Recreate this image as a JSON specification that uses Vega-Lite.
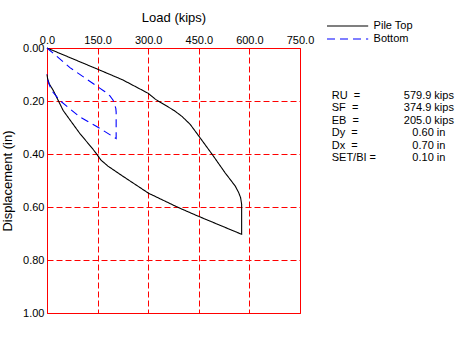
{
  "$schema": "https://vega.github.io/schema/vega-lite/v6.json",
  "autosize": {"type": "none"},
  "width": 253,
  "height": 265,
  "padding": {"left": 47, "top": 48, "right": 163, "bottom": 28},
  "background": "white",
  "config": {
    "font": "Liberation Sans",
    "view": {"stroke": "red", "strokeWidth": 1},
    "axis": {"labelFont": "Liberation Sans", "titleFont": "Liberation Sans", "labelColor": "black", "titleColor": "black", "titleFontWeight": "normal", "labelFontSize": 11, "titleFontSize": 13, "ticks": false, "domain": false, "labelFlush": false, "gridColor": "#ff0000", "gridDash": [6, 3], "gridOpacity": 1, "gridWidth": 1}
  },
  "resolve": {"scale": {"y": "independent"}},
  "layer": [
    {
      "data": {"values": [
        {"series": "Pile Top", "i": 0, "load": 0, "disp": 0},
        {"series": "Pile Top", "i": 1, "load": 150, "disp": 0.08},
        {"series": "Pile Top", "i": 2, "load": 224, "disp": 0.12},
        {"series": "Pile Top", "i": 3, "load": 300, "disp": 0.171},
        {"series": "Pile Top", "i": 4, "load": 322, "disp": 0.194},
        {"series": "Pile Top", "i": 5, "load": 377, "disp": 0.236},
        {"series": "Pile Top", "i": 6, "load": 400, "disp": 0.258},
        {"series": "Pile Top", "i": 7, "load": 425, "disp": 0.289},
        {"series": "Pile Top", "i": 8, "load": 447, "disp": 0.327},
        {"series": "Pile Top", "i": 9, "load": 490, "disp": 0.402},
        {"series": "Pile Top", "i": 10, "load": 528, "disp": 0.471},
        {"series": "Pile Top", "i": 11, "load": 558, "disp": 0.521},
        {"series": "Pile Top", "i": 12, "load": 568, "disp": 0.545},
        {"series": "Pile Top", "i": 13, "load": 574, "disp": 0.565},
        {"series": "Pile Top", "i": 14, "load": 577, "disp": 0.59},
        {"series": "Pile Top", "i": 15, "load": 577, "disp": 0.703},
        {"series": "Pile Top", "i": 16, "load": 447, "disp": 0.634},
        {"series": "Pile Top", "i": 17, "load": 391, "disp": 0.603},
        {"series": "Pile Top", "i": 18, "load": 301, "disp": 0.548},
        {"series": "Pile Top", "i": 19, "load": 225, "disp": 0.484},
        {"series": "Pile Top", "i": 20, "load": 181, "disp": 0.446},
        {"series": "Pile Top", "i": 21, "load": 160, "disp": 0.423},
        {"series": "Pile Top", "i": 22, "load": 150, "disp": 0.405},
        {"series": "Pile Top", "i": 23, "load": 137, "disp": 0.383},
        {"series": "Pile Top", "i": 24, "load": 97, "disp": 0.322},
        {"series": "Pile Top", "i": 25, "load": 48, "disp": 0.236},
        {"series": "Pile Top", "i": 26, "load": 19, "disp": 0.161},
        {"series": "Pile Top", "i": 27, "load": 7, "disp": 0.136},
        {"series": "Pile Top", "i": 28, "load": 2, "disp": 0.117},
        {"series": "Pile Top", "i": 29, "load": 0, "disp": 0.1},
        {"series": "Bottom", "i": 0, "load": 0, "disp": 0},
        {"series": "Bottom", "i": 1, "load": 68, "disp": 0.074},
        {"series": "Bottom", "i": 2, "load": 150, "disp": 0.146},
        {"series": "Bottom", "i": 3, "load": 172, "disp": 0.165},
        {"series": "Bottom", "i": 4, "load": 186, "disp": 0.18},
        {"series": "Bottom", "i": 5, "load": 196, "disp": 0.197},
        {"series": "Bottom", "i": 6, "load": 200, "disp": 0.211},
        {"series": "Bottom", "i": 7, "load": 204, "disp": 0.228},
        {"series": "Bottom", "i": 8, "load": 205, "disp": 0.242},
        {"series": "Bottom", "i": 9, "load": 205, "disp": 0.342},
        {"series": "Bottom", "i": 10, "load": 146, "disp": 0.295},
        {"series": "Bottom", "i": 11, "load": 97, "disp": 0.26},
        {"series": "Bottom", "i": 12, "load": 38, "disp": 0.198},
        {"series": "Bottom", "i": 13, "load": 14, "disp": 0.161},
        {"series": "Bottom", "i": 14, "load": 4, "disp": 0.13},
        {"series": "Bottom", "i": 15, "load": 0, "disp": 0.1}
      ]},
      "mark": {"type": "line", "strokeWidth": 1.1},
      "encoding": {
        "x": {"field": "load", "type": "quantitative", "scale": {"domain": [0, 750], "nice": false},
          "axis": {"orient": "top", "title": "Load (kips)", "values": [0, 150, 300, 450, 600, 750], "format": ".1f", "labelPadding": 3, "titlePadding": 10, "grid": true, "gridColor": "#ff0000"}},
        "y": {"field": "disp", "type": "quantitative", "scale": {"domain": [0, 1], "reverse": true, "nice": false},
          "axis": {"title": "Displacement (in)", "values": [0, 0.2, 0.4, 0.6, 0.8, 1.0], "format": ".2f", "labelPadding": 3, "titlePadding": 8, "grid": true, "gridColor": "#ff0000"}},
        "order": {"field": "i", "type": "quantitative"},
        "color": {"field": "series", "type": "nominal", "scale": {"domain": ["Pile Top", "Bottom"], "range": ["black", "blue"]},
          "legend": {"title": null, "orient": "none", "legendX": 294.6, "legendY": -28, "symbolType": "M-4,0H4", "symbolSize": 106, "symbolStrokeWidth": 1.1, "labelFontSize": 11, "labelColor": "black", "labelOffset": 20, "rowPadding": 2, "padding": 0}},
        "strokeDash": {"field": "series", "type": "nominal", "scale": {"domain": ["Pile Top", "Bottom"], "range": [[1, 0], [8, 5]]}, "legend": null}
      }
    },
    {
      "data": {"values": [
        {"name": "RU\u00a0 =", "val": "579.9 kips"},
        {"name": "SF\u00a0 =", "val": "374.9 kips"},
        {"name": "EB\u00a0 =", "val": "205.0 kips"},
        {"name": "Dy\u00a0 =", "val": "0.60 in"},
        {"name": "Dx\u00a0 =", "val": "0.70 in"},
        {"name": "SET/BI =", "val": "0.10 in"}
      ]},
      "layer": [
        {
          "mark": {"type": "text", "align": "left", "baseline": "middle", "fontSize": 11, "color": "black"},
          "encoding": {
            "x": {"datum": 844},
            "y": {"field": "name", "type": "ordinal", "sort": null, "scale": {"type": "point", "range": [47.7, 110.3], "padding": 0}, "axis": null},
            "text": {"field": "name"}
          }
        },
        {
          "mark": {"type": "text", "align": "center", "baseline": "middle", "fontSize": 11, "color": "black"},
          "encoding": {
            "x": {"datum": 1132},
            "y": {"field": "name", "type": "ordinal", "sort": null, "scale": {"type": "point", "range": [47.7, 110.3], "padding": 0}, "axis": null},
            "text": {"field": "val"}
          }
        }
      ]
    }
  ]
}
